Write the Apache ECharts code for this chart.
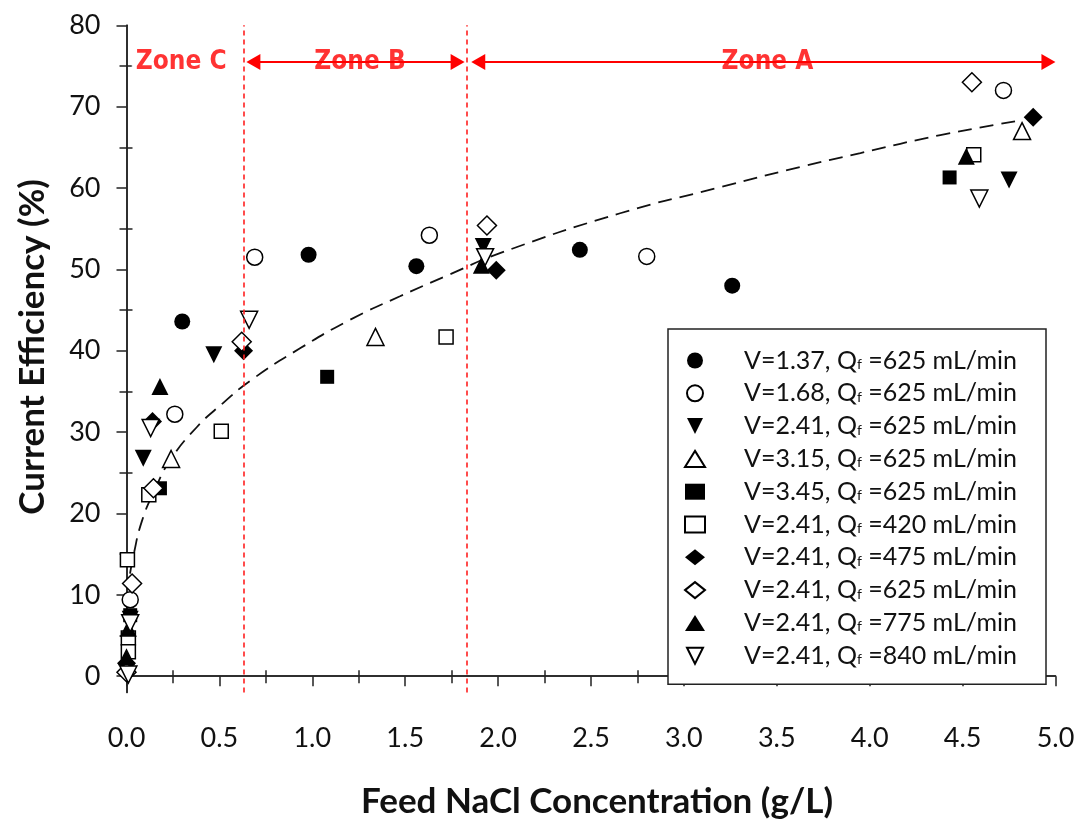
<!DOCTYPE html>
<html><head><meta charset="utf-8">
<script src="https://cdn.jsdelivr.net/npm/echarts@6/dist/echarts.min.js"></script>
<style>html,body{margin:0;padding:0;background:#fff}#c{width:1081px;height:825px}</style>
</head><body><div id="c"></div>
<script>
// ---- data ----
const seriesLabels = [
  'V=1.37, Qf =625 mL/min',
  'V=1.68, Qf =625 mL/min',
  'V=2.41, Qf =625 mL/min',
  'V=3.15, Qf =625 mL/min',
  'V=3.45, Qf =625 mL/min',
  'V=2.41, Qf =420 mL/min',
  'V=2.41, Qf =475 mL/min',
  'V=2.41, Qf =625 mL/min',
  'V=2.41, Qf =775 mL/min',
  'V=2.41, Qf =840 mL/min'
];
const v137_q625 = [[0.30,43.6],[0.98,51.8],[1.56,50.4],[2.44,52.4],[3.26,48.0]];
const v168_q625 = [[0.02,9.4],[0.26,32.2],[0.69,51.5],[1.63,54.2],[2.80,51.6],[4.72,72.0]];
const v241_q625 = [[0.02,7.0],[0.09,26.8],[0.47,39.5],[1.92,52.8],[4.75,61.0]];
const v315_q625 = [[0.24,26.7],[1.34,41.7],[4.82,67.0]];
const v345_q625 = [[0.02,7.5],[0.18,23.1],[1.08,36.8],[4.43,61.3]];
const v241_q420 = [[0.005,14.3],[0.01,4.7],[0.01,3.0],[0.12,22.3],[0.51,30.1],[1.72,41.7],[4.56,64.1]];
const v241_q475 = [[0.0,1.6],[0.14,31.3],[0.63,40.0],[1.99,49.9],[4.88,68.7]];
const v241_q625d = [[0.0,0.5],[0.03,11.4],[0.145,23.1],[0.62,41.1],[1.94,55.4],[4.55,73.0]];
const v241_q775 = [[0.0,2.4],[0.01,5.9],[0.18,35.6],[1.91,50.5],[4.52,63.9]];
const v241_q840 = [[0.01,0.2],[0.02,6.5],[0.13,30.5],[0.66,43.8],[1.93,51.5],[4.59,58.7]];
// dashed trend curve
const fitCurve = [[0.019,12.6],[0.037,14.8],[0.082,19.0],[0.15,22.8],[0.234,26.5],[0.378,30.6],[0.521,33.6],[0.665,36.3],[0.934,40.3],[1.203,43.8],[1.472,46.7],[1.741,49.4],[2.01,52.0],[2.657,56.9],[3.196,60.1],[3.627,62.6],[3.95,64.3],[4.38,66.5],[4.81,68.3]];
// zones
const zoneBounds = [0.625, 1.83];
const zoneNames = ['Zone C','Zone B','Zone A'];
const zoneLabelX = [0.294, 1.257, 3.45];
const zoneY = 75.5;
const zoneArrows = [[0.683,1.782],[1.893,4.962]];
// ticks
const yLabelValues = [0,10,20,30,40,50,60,70,80];
const yMinorTicks = [5,15,25,35,45,55,65,75];
const yRightTicks = [0,5,10,15,20,25,30,35,40,45,50,55,60,65,70,75,80];
const xMinorTicks = [0.25,0.75,1.25,1.75,2.25,2.75,3.25,3.75,4.25,4.75];

const INV_TRI = 'path://M0,0L1,0L0.5,1Z';
const seriesData = [v137_q625,v168_q625,v241_q625,v315_q625,v345_q625,v241_q420,v241_q475,v241_q625d,v241_q775,v241_q840];
const styles = [
  {symbol:'circle',size:16,fill:'#000'},
  {symbol:'circle',size:16,fill:'#fff'},
  {symbol:INV_TRI,size:17,fill:'#000'},
  {symbol:'triangle',size:17,fill:'#fff'},
  {symbol:'rect',size:14,fill:'#000'},
  {symbol:'rect',size:14,fill:'#fff'},
  {symbol:'diamond',size:19,fill:'#000'},
  {symbol:'diamond',size:19,fill:'#fff'},
  {symbol:'triangle',size:17,fill:'#000'},
  {symbol:INV_TRI,size:17,fill:'#fff'}
];
const FONT = 'Lato, "Open Sans", sans-serif';
const names = seriesLabels.map((l,i)=>'S'+i);
const labelMap = {};
names.forEach((n,i)=>{ labelMap[n] = seriesLabels[i].replace('Qf','Q{f|f}'); });

const series = [];
series.push({
  type:'line', name:'fit', data: fitCurve, smooth:true, showSymbol:false, symbol:'none',
  lineStyle:{color:'#111', width:1.8, type:[14,8]}, z:1, silent:true
});
seriesData.forEach((d,i)=>{
  const s = styles[i];
  series.push({
    type:'scatter', name:names[i], data:d, symbol:s.symbol, symbolSize:s.size,
    itemStyle:{color:s.fill, borderColor:'#000', borderWidth: s.fill==='#fff'?1.5:0, opacity:1},
    z:3, silent:true
  });
});
// zone annotations
series.push({
  type:'scatter', name:'zones', silent:true, z:4,
  data: zoneNames.map((n,i)=>[zoneLabelX[i], zoneY, n]),
  symbolSize:1, itemStyle:{color:'rgba(0,0,0,0)'},
  label:{show:true, position:'inside', formatter:p=>p.value[2], color:'#ff0000',
    fontFamily:'"Liberation Sans Narrow", "DejaVu Sans Condensed", sans-serif', fontWeight:'bold', fontSize:26,
    backgroundColor:'#fff', padding:[0,4]},
  markLine:{
    silent:true, animation:false,
    label:{show:false},
    symbol:'none',
    lineStyle:{color:'#ff2020', type:[5,4], width:1.6},
    data: zoneBounds.map(x=>({xAxis:x}))
  }
});
series.push({
  type:'scatter', name:'arrows', data:[], silent:true, z:2,
  markLine:{
    silent:true, animation:false, label:{show:false},
    symbol:['triangle','triangle'], symbolSize:[16,14],
    lineStyle:{color:'#ff0000', type:'solid', width:2},
    itemStyle:{color:'#ff0000'},
    data: zoneArrows.map(a=>[{coord:[a[0],zoneY]},{coord:[a[1],zoneY]}])
  }
});

const axisColor = '#222';
const option = {
  animation:false,
  backgroundColor:'#fff',
  grid:{left:126.5, right:25.5, top:25.3, bottom:132.5, containLabel:false},
  legend:{
    orient:'vertical', left:668, top:329, padding:[19,20,16,16],
    itemWidth:20, itemHeight:16, itemGap:7.8,
    borderColor:'#222', borderWidth:1.5, backgroundColor:'#fff',
    selectedMode:false,
    data:names,
    formatter:n=>labelMap[n],
    textStyle:{fontFamily:FONT, fontSize:25, color:'#111', lineHeight:22, width:282, padding:[0,0,0,34],
      rich:{f:{fontFamily:FONT, fontSize:14, color:'#111', verticalAlign:'bottom', lineHeight:16}}}
  },
  xAxis:[
    {type:'value', position:'bottom', min:0, max:5, interval:0.5,
     axisLine:{show:true, lineStyle:{color:axisColor, width:1.5}},
     axisTick:{show:true, inside:false, length:10, lineStyle:{color:axisColor, width:1.5}},
     axisLabel:{margin:32, fontFamily:FONT, fontSize:27, color:'#111', formatter:v=>v.toFixed(1)},
     splitLine:{show:false},
     name:'Feed NaCl Concentration (g/L)', nameLocation:'middle', nameGap:92,
     nameTextStyle:{fontFamily:FONT, fontSize:35, fontWeight:'bold', color:'#111', padding:[0,0,0,12]}},
    {type:'value', position:'bottom', min:0, max:5, interval:0.25,
     axisLine:{show:false},
     axisTick:{show:true, inside:true, length:6, customValues:xMinorTicks, lineStyle:{color:axisColor, width:1.5}},
     axisLabel:{show:false}, splitLine:{show:false}},
    {type:'value', position:'top', min:0, max:5, interval:0.25,
     axisLine:{show:true, lineStyle:{color:axisColor, width:1.5}},
     axisTick:{show:true, inside:true, length:7, lineStyle:{color:axisColor, width:1.5}},
     axisLabel:{show:false}, splitLine:{show:false}}
  ],
  yAxis:[
    {type:'value', position:'left', min:-2, max:80,
     axisLine:{show:true, lineStyle:{color:axisColor, width:1.5}},
     axisTick:{show:true, inside:false, length:10, customValues:yLabelValues, lineStyle:{color:axisColor, width:1.5}},
     axisLabel:{margin:26, fontFamily:FONT, fontSize:27, color:'#111', customValues:yLabelValues},
     splitLine:{show:false},
     name:'Current Efficiency (%)', nameLocation:'middle', nameGap:76,
     nameTextStyle:{fontFamily:FONT, fontSize:35, fontWeight:'bold', color:'#111', padding:[0,0,0,24]}},
    {type:'value', position:'left', min:-2, max:80,
     axisLine:{show:false},
     axisTick:{show:true, inside:true, length:6, customValues:yMinorTicks, lineStyle:{color:axisColor, width:1.5}},
     axisLabel:{show:false}, splitLine:{show:false}},
    {type:'value', position:'right', min:-2, max:80,
     axisLine:{show:true, lineStyle:{color:axisColor, width:1.5}},
     axisTick:{show:true, inside:true, length:7, customValues:yRightTicks, lineStyle:{color:axisColor, width:1.5}},
     axisLabel:{show:false}, splitLine:{show:false}}
  ],
  series: series
};
const chart = echarts.init(document.getElementById('c'), null, {renderer:'canvas'});
chart.setOption(option);
</script>
</body></html>
